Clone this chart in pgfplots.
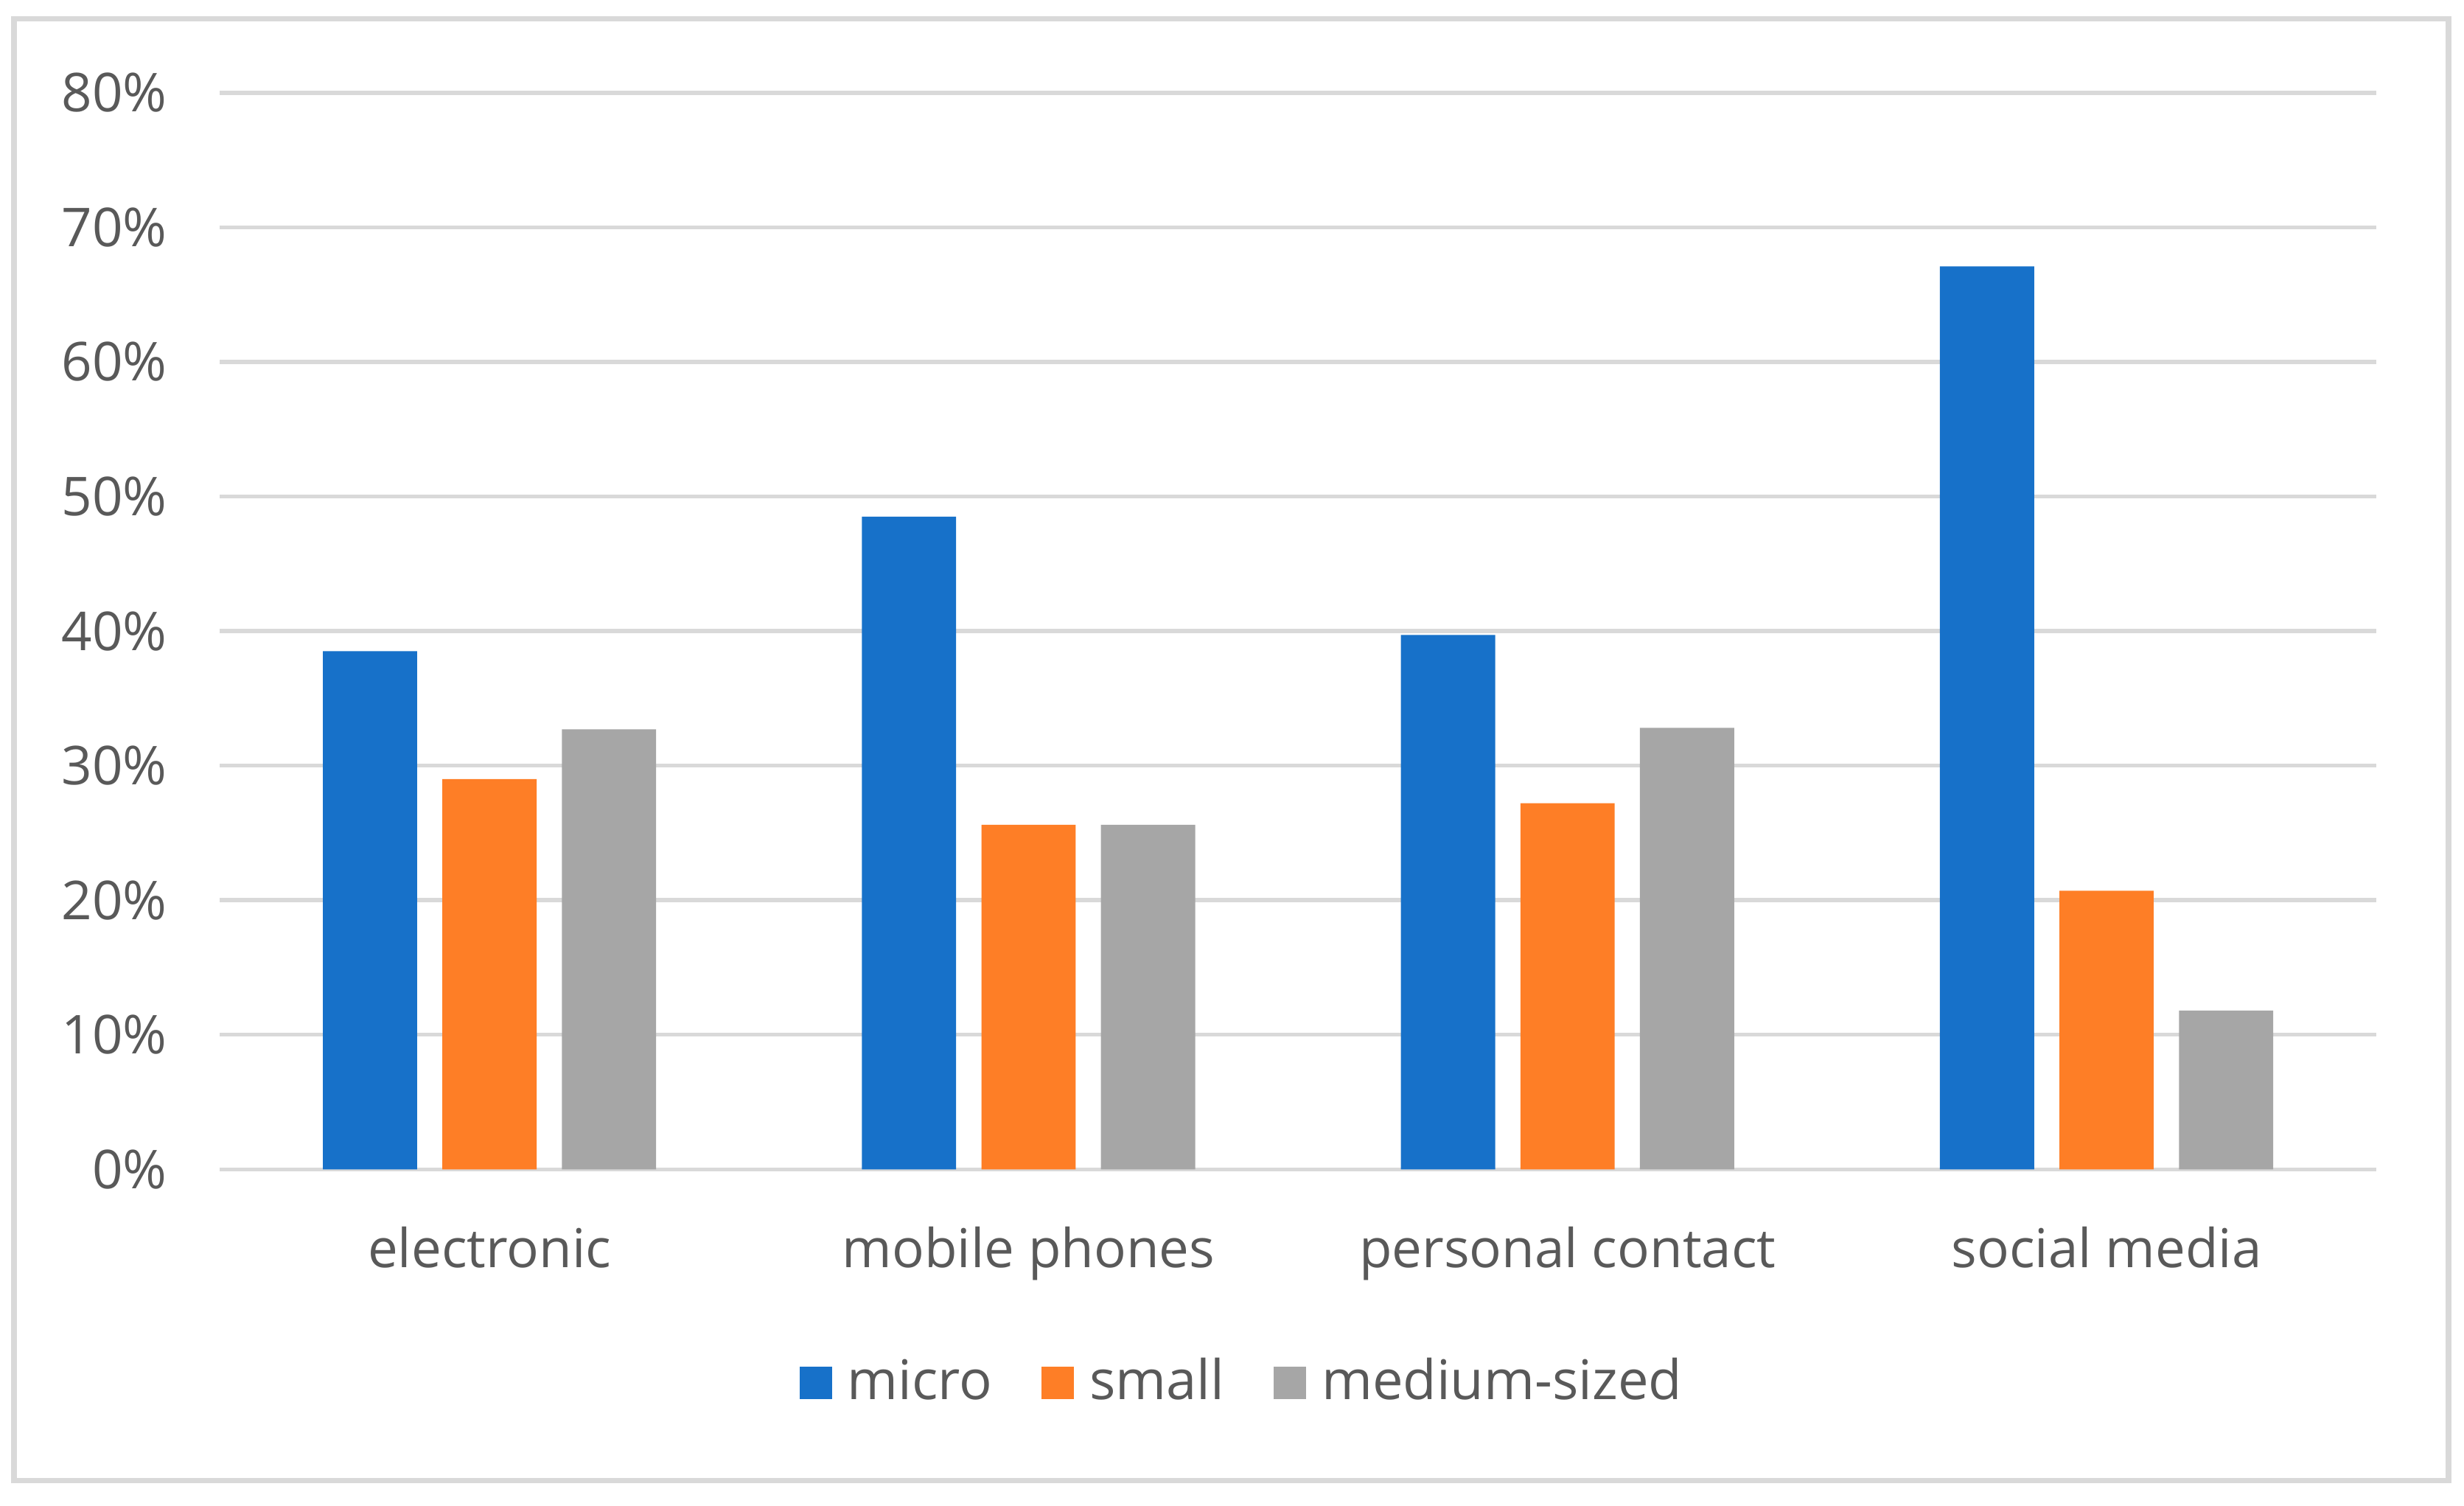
\documentclass[border=0pt]{standalone}
\usepackage{pgfplots}
\pgfplotsset{compat=1.18}
\usepackage{fontspec}
\setmainfont{Open Sans}
\definecolor{cblue}{RGB}{23,113,201}
\definecolor{corange}{RGB}{254,126,38}
\definecolor{cgray}{RGB}{166,166,166}
\definecolor{ctext}{RGB}{89,89,89}
\definecolor{cgrid}{RGB}{217,217,217}
\begin{document}
\begin{tikzpicture}
\useasboundingbox (-1.4286,-2.184) rectangle (14.571,7.592);
\draw[cgrid, line width=1pt] (-1.337,-2.02) rectangle (14.47,7.469);
\begin{axis}[
  at={(0,0)}, anchor=south west,
  scale only axis,
  width=14.0cm, height=6.99cm,
  ybar=0.164cm, bar width=0.612cm,
  xmin=-0.5, xmax=3.5, ymin=0, ymax=80,
  xtick={0,1,2,3},
  xticklabels={electronic, mobile phones, personal contact, social media},
  ytick={0,10,...,80},
  yticklabels={0\%,10\%,20\%,30\%,40\%,50\%,60\%,70\%,80\%},
  ymajorgrids, grid style={cgrid, line width=0.75pt},
  axis line style={draw=none},
  major tick length=0pt,
  tick label style={font=\fontsize{9.9}{12}\selectfont, text=ctext},
  xticklabel style={yshift=-0.25cm},
  yticklabel style={xshift=-0.22cm},
  legend style={at={(axis description cs:0.476,-0.1986)}, anchor=center, draw=none,
    legend columns=-1, font=\fontsize{10.1}{12}\selectfont, text=ctext,
    /tikz/every even column/.append style={column sep=0.25cm},
    /tikz/every odd column/.append style={column sep=0.03cm}},
  legend image code/.code={\fill[#1] (0,-0.105cm) rectangle (0.21cm,0.105cm);},
]
\addplot[fill=cblue, draw=none] coordinates {(0,38.5) (1,48.5) (2,39.7) (3,67.1)};
\addplot[fill=corange, draw=none] coordinates {(0,29.0) (1,25.6) (2,27.2) (3,20.7)};
\addplot[fill=cgray, draw=none] coordinates {(0,32.7) (1,25.6) (2,32.8) (3,11.8)};
\legend{micro, small, medium-sized}
\end{axis}
\end{tikzpicture}
\end{document}
